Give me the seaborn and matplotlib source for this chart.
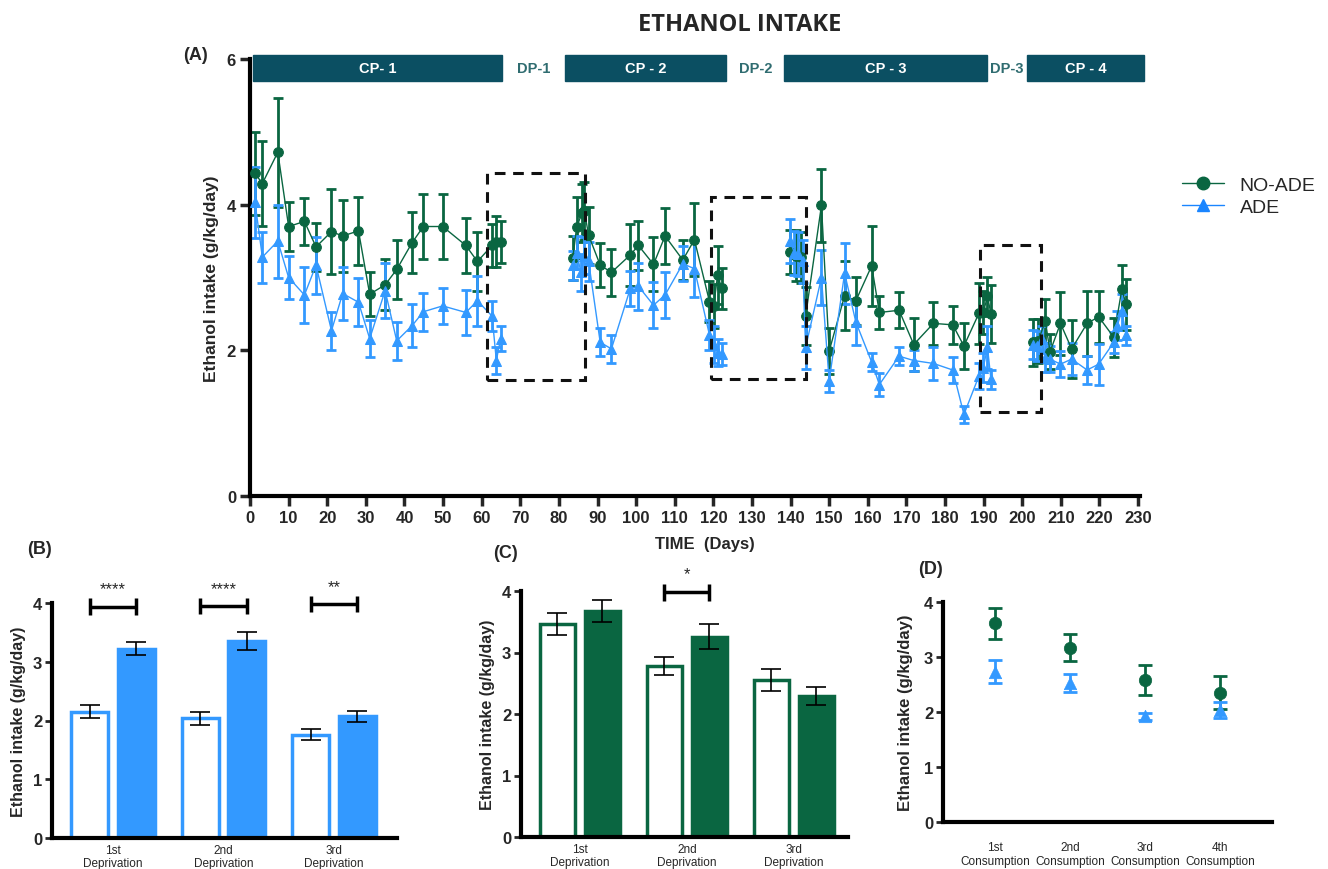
import numpy as np
import pandas as pd
import matplotlib
matplotlib.use("Agg")
import matplotlib.pyplot as plt
from matplotlib.patches import Rectangle
from matplotlib.lines import Line2D
import seaborn as sns

# ─── Colours ─────────────────────────────────────────────────────────────────
GREEN = "#0a6641"
BLUE = "#3399ff"
TEAL = "#0b4f62"
DP_TEXT = "#2f6c70"

# ─── Data: panel A (mean ± SEM over time) ────────────────────────────────────
noade_day = [1.3, 3.2, 7.2, 10.0, 14.1, 17.1, 21.1, 24.0, 28.1, 31.0, 35.0, 38.0,
             42.0, 44.9, 49.9, 55.9, 58.9, 62.7, 63.7, 64.9,
             83.6, 84.6, 86.0, 86.6, 87.7, 90.7, 93.6, 98.5, 100.6, 104.5, 107.5,
             112.1, 115.1, 119.0, 120.1, 121.1, 122.2,
             139.9, 141.3, 142.8, 143.9, 148.0, 150.0, 154.0, 156.9, 161.0, 163.0,
             168.1, 171.9, 177.0, 182.0, 184.9, 188.8, 189.9, 191.0, 191.9,
             202.8, 204.1, 206.0, 207.2, 209.9, 212.8, 216.8, 219.8, 223.7, 225.8, 226.9]
noade_mean = [4.43, 4.29, 4.72, 3.70, 3.77, 3.42, 3.63, 3.57, 3.64, 2.77, 2.90, 3.11,
              3.48, 3.70, 3.70, 3.44, 3.22, 3.44, 3.49, 3.49,
              3.27, 3.69, 3.89, 3.91, 3.58, 3.17, 3.07, 3.31, 3.44, 3.18, 3.57,
              3.24, 3.52, 2.67, 2.61, 3.03, 2.85,
              3.35, 3.30, 3.28, 2.47, 3.99, 1.99, 2.75, 2.68, 3.16, 2.52,
              2.55, 2.08, 2.37, 2.35, 2.06, 2.51, 2.52, 2.74, 2.50,
              2.11, 2.13, 2.40, 1.98, 2.37, 2.02, 2.37, 2.46, 2.18, 2.84, 2.63]
noade_sem = [0.57, 0.58, 0.75, 0.33, 0.32, 0.33, 0.58, 0.50, 0.47, 0.30, 0.35, 0.40,
             0.42, 0.45, 0.45, 0.38, 0.40, 0.30, 0.35, 0.29,
             0.30, 0.42, 0.40, 0.40, 0.39, 0.30, 0.32, 0.43, 0.34, 0.37, 0.38,
             0.27, 0.50, 0.28, 0.30, 0.40, 0.28,
             0.30, 0.35, 0.35, 0.40, 0.50, 0.32, 0.47, 0.33, 0.55, 0.23,
             0.25, 0.36, 0.30, 0.26, 0.32, 0.42, 0.30, 0.27, 0.40,
             0.32, 0.30, 0.30, 0.24, 0.43, 0.40, 0.45, 0.36, 0.27, 0.33, 0.35]

ade_day = [1.3, 3.2, 7.2, 10.0, 14.1, 17.1, 21.1, 24.0, 28.1, 31.0, 35.0, 38.0,
           42.0, 44.9, 49.9, 55.9, 58.9, 62.7, 63.8, 64.9,
           83.6, 84.6, 85.7, 86.6, 87.7, 90.7, 93.6, 98.5, 100.6, 104.5, 107.5,
           112.1, 115.1, 119.0, 120.1, 121.1, 122.2,
           139.9, 141.0, 142.0, 143.1, 143.9, 148.0, 150.0, 154.0, 156.9, 161.0, 163.0,
           168.1, 171.9, 177.0, 182.0, 184.9, 188.8, 189.9, 191.0, 191.9,
           202.8, 203.7, 205.0, 206.0, 207.2, 209.9, 212.8, 216.8, 219.8,
           223.7, 224.6, 225.8, 226.9]
ade_mean = [4.03, 3.28, 3.50, 3.00, 2.76, 3.17, 2.27, 2.78, 2.66, 2.16, 2.82, 2.13,
            2.34, 2.53, 2.61, 2.52, 2.68, 2.47, 1.86, 2.16,
            3.17, 3.34, 3.07, 3.30, 3.22, 2.11, 2.02, 2.85, 2.88, 2.62, 2.76,
            3.19, 3.12, 2.21, 2.08, 1.97, 1.95,
            3.50, 3.34, 3.32, 3.22, 2.04, 3.00, 1.58, 3.06, 2.39, 1.84, 1.53,
            1.92, 1.86, 1.82, 1.73, 1.12, 1.65, 1.76, 2.04, 1.60,
            2.08, 2.06, 2.15, 1.90, 1.88, 1.81, 1.88, 1.73, 1.81,
            2.11, 2.34, 2.54, 2.21]
ade_sem = [0.49, 0.35, 0.50, 0.30, 0.38, 0.39, 0.26, 0.37, 0.33, 0.25, 0.38, 0.26,
           0.30, 0.26, 0.25, 0.31, 0.34, 0.21, 0.18, 0.17,
           0.20, 0.23, 0.25, 0.25, 0.27, 0.19, 0.19, 0.24, 0.32, 0.32, 0.31,
           0.24, 0.39, 0.21, 0.25, 0.18, 0.15,
           0.30, 0.30, 0.30, 0.30, 0.30, 0.38, 0.15, 0.42, 0.32, 0.13, 0.16,
           0.12, 0.15, 0.23, 0.18, 0.12, 0.18, 0.20, 0.30, 0.13,
           0.20, 0.20, 0.19, 0.20, 0.18, 0.18, 0.22, 0.19, 0.28,
           0.14, 0.20, 0.24, 0.13]

# consumption / deprivation periods (start day, end day)
cp_names = ["CP- 1", "CP - 2", "CP - 3", "CP - 4"]
cp_start = [0.7, 81.7, 138.2, 201.2]
cp_end = [65.3, 123.2, 190.9, 231.5]
dp_names = ["DP-1", "DP-2", "DP-3"]
dp_center = [73.5, 131.0, 196.1]
phase_breaks = [70, 130, 197]
# dashed boxes around deprivation periods: (day0, day1, low, high)
box_day0 = [61.4, 119.3, 189.1]
box_day1 = [86.7, 143.9, 204.9]
box_low = [1.59, 1.60, 1.15]
box_high = [4.44, 4.11, 3.44]

# ─── Data: panels B, C, D ────────────────────────────────────────────────────
deprivations = ["1st\nDeprivation", "2nd\nDeprivation", "3rd\nDeprivation"]
b_before = [2.15, 2.04, 1.76]
b_before_sem = [0.11, 0.11, 0.10]
b_after = [3.22, 3.35, 2.07]
b_after_sem = [0.11, 0.15, 0.10]
b_stars = ["****", "****", "**"]
b_bracket_y = [3.94, 3.95, 3.98]

c_before = [3.46, 2.78, 2.55]
c_before_sem = [0.18, 0.15, 0.18]
c_after = [3.68, 3.26, 2.29]
c_after_sem = [0.18, 0.20, 0.15]
c_stars = ["", "*", ""]
c_bracket_y = [0, 3.98, 0]

consumptions = ["1st\nConsumption", "2nd\nConsumption", "3rd\nConsumption", "4th\nConsumption"]
d_noade = [3.61, 3.17, 2.58, 2.35]
d_noade_sem = [0.29, 0.245, 0.275, 0.30]
d_ade = [2.73, 2.53, 1.92, 2.04]
d_ade_sem = [0.21, 0.17, 0.07, 0.15]

# ─── Style ───────────────────────────────────────────────────────────────────
sns.set_theme(style="white")
plt.rcParams["font.family"] = ["Liberation Sans", "DejaVu Sans"]

W, H = 1328, 870
fig = plt.figure(figsize=(W / 100, H / 100), dpi=100)


def px_axes(left, top, right, bottom):
    return fig.add_axes([left / W, 1 - bottom / H, (right - left) / W, (bottom - top) / H])


def frame(ax, lw=2.5):
    for s in ["top", "right"]:
        ax.spines[s].set_visible(False)
    for s in ["left", "bottom"]:
        ax.spines[s].set_linewidth(lw)
        ax.spines[s].set_color("black")


# ─── Panel A ─────────────────────────────────────────────────────────────────
axA = px_axes(250, 60, 1140, 497)
series = [(noade_day, noade_mean, noade_sem, GREEN, "o"),
          (ade_day, ade_mean, ade_sem, BLUE, "^")]
for days, mean, sem, color, marker in series:
    df = pd.DataFrame({"day": days, "intake": mean})
    df["phase"] = np.digitize(df["day"], phase_breaks)
    axA.errorbar(days, mean, yerr=sem, fmt="none", ecolor=color, elinewidth=2,
                 capsize=3.5, capthick=2, zorder=2)
    sns.lineplot(data=df, x="day", y="intake", units="phase", estimator=None,
                 color=color, marker=marker, markersize=7, markeredgecolor=color,
                 linewidth=1, ax=axA, zorder=3)

for name, x0, x1 in zip(cp_names, cp_start, cp_end):
    axA.add_patch(Rectangle((x0, 5.70), x1 - x0, 0.35, color=TEAL, clip_on=False, zorder=4))
    axA.text((x0 + x1) / 2, 5.875, name, color="white", fontsize=10.5, fontweight="bold",
             ha="center", va="center", zorder=5)
for name, xc in zip(dp_names, dp_center):
    axA.text(xc, 5.88, name, color=DP_TEXT, fontsize=10.5, fontweight="bold",
             ha="center", va="center")
for x0, x1, lo, hi in zip(box_day0, box_day1, box_low, box_high):
    axA.add_patch(Rectangle((x0, lo), x1 - x0, hi - lo, fill=False, ec="#111111",
                            lw=2.2, ls=(0, (3.5, 2.5)), zorder=6))

frame(axA, 3)
axA.set_xlim(0, 230.5)
axA.set_ylim(0, 6)
axA.set_xticks(range(0, 231, 10))
axA.set_yticks([0, 2, 4, 6])
axA.tick_params(direction="out", length=7, width=2.5, labelsize=12, pad=3,
                bottom=True, left=True)
plt.setp(axA.get_xticklabels() + axA.get_yticklabels(), fontweight="bold")
axA.set_xlabel("")
axA.set_ylabel("Ethanol intake (g/kg/day)", fontsize=12.5, fontweight="bold", labelpad=6)

handles = [Line2D([], [], color=GREEN, marker="o", markersize=9, lw=1),
           Line2D([], [], color="#1a85ff", marker="^", markersize=9, lw=1)]
fig.legend(handles, ["NO-ADE", "ADE"], loc="center left",
           bbox_to_anchor=(1164 / W, 1 - 197 / H), frameon=False, fontsize=14,
           handlelength=2.2, labelspacing=0.25)


# ─── Panels B and C (bar charts) ─────────────────────────────────────────────
def bar_panel(ax, before, before_sem, after, after_sem, color, stars, bracket_y, xlim):
    df = pd.DataFrame({"period": deprivations * 2,
                       "stage": ["before"] * 3 + ["after"] * 3,
                       "intake": before + after})
    sns.barplot(data=df, x="period", y="intake", hue="stage", width=0.84, gap=0.21,
                errorbar=None, legend=False, ax=ax)
    centers = []
    for cont, fc, sems in zip(ax.containers, ["white", color], [before_sem, after_sem]):
        xs, ys = [], []
        for bar in cont:
            bar.set_facecolor(fc)
            bar.set_edgecolor(color)
            bar.set_linewidth(2.5)
            xs.append(bar.get_x() + bar.get_width() / 2)
            ys.append(bar.get_height())
        ax.errorbar(xs, ys, yerr=sems, fmt="none", ecolor="black", elinewidth=1.2,
                    capsize=7, capthick=1.2, zorder=5)
        centers.append(xs)
    for i, (s, y) in enumerate(zip(stars, bracket_y)):
        if not s:
            continue
        x0, x1 = centers[0][i], centers[1][i]
        kw = dict(color="black", lw=2.5, clip_on=False, solid_capstyle="butt")
        ax.plot([x0, x1], [y, y], **kw)
        ax.plot([x0, x0], [y - 0.14, y + 0.14], **kw)
        ax.plot([x1, x1], [y - 0.14, y + 0.14], **kw)
        ax.text((x0 + x1) / 2, y + 0.3, s, ha="center", va="center", fontsize=12)
    frame(ax, 3)
    ax.set_xlim(*xlim)
    ax.set_ylim(0, 4)
    ax.set_yticks([0, 1, 2, 3, 4])
    ax.tick_params(axis="y", direction="out", length=5, width=2, labelsize=12, pad=2, left=True)
    ax.tick_params(axis="x", length=0, labelsize=8.5, pad=4)
    plt.setp(ax.get_yticklabels(), fontweight="bold")
    ax.set_xlabel("")
    ax.set_ylabel("Ethanol intake (g/kg/day)", fontsize=11.5, fontweight="bold", labelpad=5)


axB = px_axes(52, 604, 397, 839)
bar_panel(axB, b_before, b_before_sem, b_after, b_after_sem, BLUE, b_stars, b_bracket_y,
          (-0.552, 2.57))
axC = px_axes(521, 592, 848, 838)
bar_panel(axC, c_before, c_before_sem, c_after, c_after_sem, GREEN, c_stars, c_bracket_y,
          (-0.551, 2.505))

# ─── Panel D ─────────────────────────────────────────────────────────────────
axD = px_axes(943, 603, 1272, 823)
pos = np.arange(len(consumptions))
for vals, sems, color, marker in [(d_noade, d_noade_sem, GREEN, "o"),
                                  (d_ade, d_ade_sem, BLUE, "^")]:
    axD.errorbar(pos, vals, yerr=sems, fmt="none", ecolor=color, elinewidth=2,
                 capsize=5, capthick=2, zorder=2)
    sns.scatterplot(x=pos, y=vals, color=color, marker=marker, s=80, edgecolor=color,
                    linewidth=0.5, ax=axD, zorder=3)
frame(axD, 3)
axD.set_xlim(-0.693, 3.693)
axD.set_ylim(0, 4)
axD.set_xticks(pos)
axD.set_xticklabels(consumptions)
axD.set_yticks([0, 1, 2, 3, 4])
axD.tick_params(axis="y", direction="out", length=5, width=2, labelsize=12, pad=2, left=True)
axD.tick_params(axis="x", length=0, labelsize=8.5, pad=14)
plt.setp(axD.get_yticklabels(), fontweight="bold")
axD.set_ylabel("Ethanol intake (g/kg/day)", fontsize=12, fontweight="bold", labelpad=8)

# ─── Titles and panel letters ────────────────────────────────────────────────
fig.text(740 / W, 1 - 25 / H, "ETHANOL INTAKE", fontsize=17, fontweight="bold",
         family=["Open Sans", "DejaVu Sans"], ha="center", va="center")
fig.text(705 / W, 1 - 545 / H, "TIME  (Days)", fontsize=12, fontweight="bold",
         ha="center", va="center")
for lab, x, y in [("(A)", 196, 55), ("(B)", 40, 549), ("(C)", 506, 554), ("(D)", 931, 569)]:
    fig.text(x / W, 1 - y / H, lab, fontsize=13, fontweight="bold", ha="center", va="center")

fig.savefig("out.png", dpi=100)
